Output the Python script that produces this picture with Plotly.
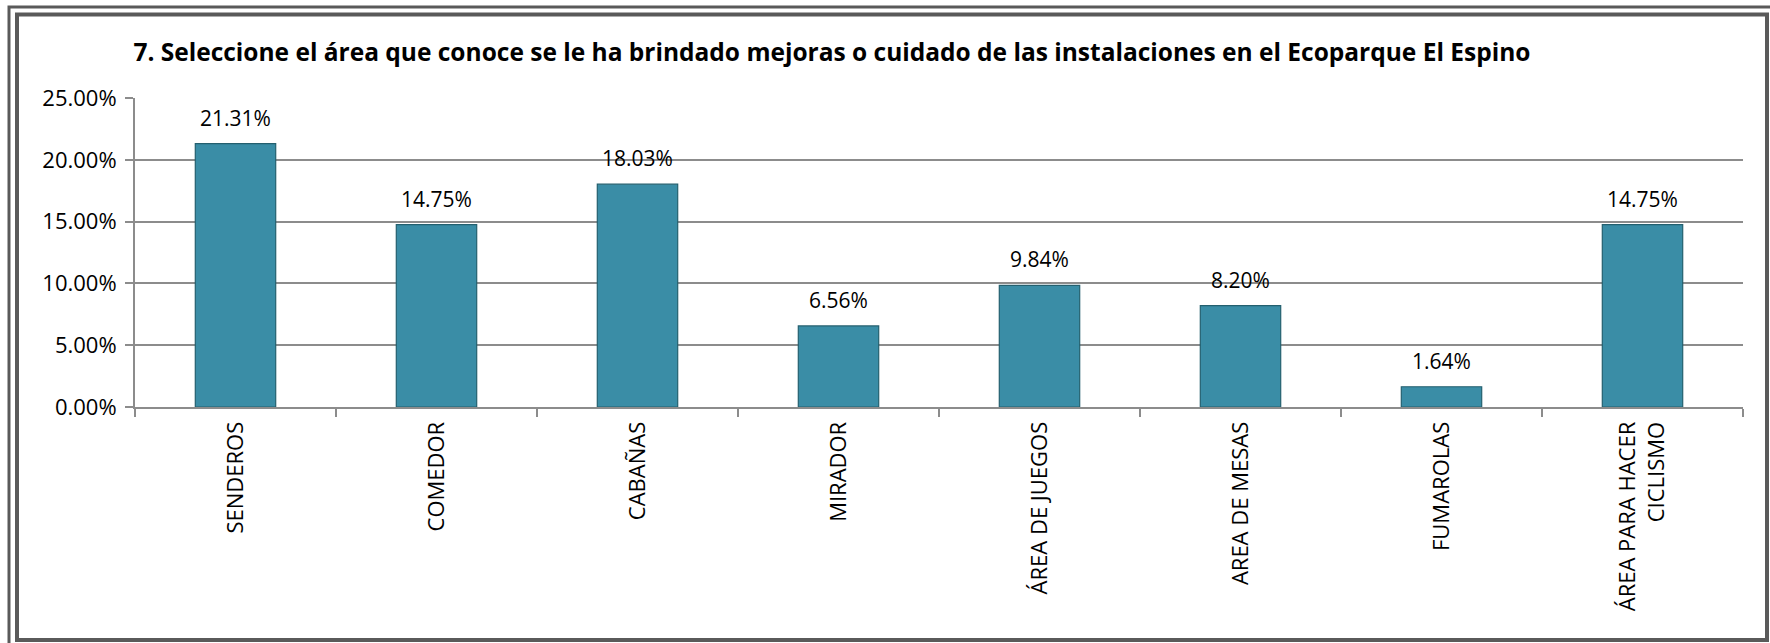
import plotly.graph_objects as go

categories = ['SENDEROS', 'COMEDOR', 'CABAÑAS', 'MIRADOR', 'ÁREA DE JUEGOS',
              'AREA DE MESAS', 'FUMAROLAS', 'ÁREA PARA HACER<br>CICLISMO']
porcentajes = [0.2131, 0.1475, 0.1803, 0.0656, 0.0984, 0.0820, 0.0164, 0.1475]

W, H = 1770, 643
L, R, T, B = 135, 27, 98, 236
pw, ph = W - L - R, H - T - B


def px(x):
    return (x - L) / pw


def py(y):
    return (H - B - y) / ph


fig = go.Figure()
fig.add_bar(x=categories, y=porcentajes, width=0.4,
            marker=dict(color='#3A8DA6', line=dict(color='#24606F', width=1.2)),
            hoverinfo='x+y')

for c, v in zip(categories, porcentajes):
    fig.add_annotation(x=c, y=v, text=f'{v * 100:.2f}%', showarrow=False,
                       yanchor='bottom', yshift=10,
                       font=dict(size=21, color='#000000'))

# marco doble alrededor del gráfico
frame = '#5A5A5A'
fig.add_shape(type='rect', xref='paper', yref='paper',
              x0=px(9), x1=px(1790), y0=py(7), y1=py(660),
              line=dict(color=frame, width=3))
fig.add_shape(type='rect', xref='paper', yref='paper',
              x0=px(17), x1=px(1767), y0=py(14.5), y1=py(640),
              line=dict(color=frame, width=4))

fig.update_layout(
    width=W, height=H,
    margin=dict(l=L, r=R, t=T, b=B),
    paper_bgcolor='white', plot_bgcolor='white',
    font=dict(family='Open Sans', size=22, color='#000000'),
    title=dict(text='<b>7. Seleccione el área que conoce se le ha brindado mejoras o cuidado de las instalaciones en el Ecoparque El Espino</b>',
               x=0.470, xanchor='center', y=0.919, yanchor='middle',
               font=dict(size=24.5)),
    showlegend=False,
    bargap=0.6,
)
fig.update_xaxes(type='category', tickangle=-90, tickson='boundaries',
                 ticks='outside', ticklen=8, tickcolor='#8C8C8C', tickwidth=2,
                 showline=True, linecolor='#8C8C8C', linewidth=2,
                 showgrid=False, tickfont=dict(size=22), ticklabelstandoff=4)
fig.update_yaxes(range=[0, 0.25], dtick=0.05, tickformat='.2%',
                 ticks='outside', ticklen=8, tickcolor='#8C8C8C', tickwidth=2,
                 showline=True, linecolor='#8C8C8C', linewidth=2,
                 showgrid=True, gridcolor='#8C8C8C', gridwidth=2,
                 zeroline=False, tickfont=dict(size=22), ticklabelstandoff=4)

fig.write_html('out.html', config={'displayModeBar': False},
               post_script="document.body.style.margin='0';")
